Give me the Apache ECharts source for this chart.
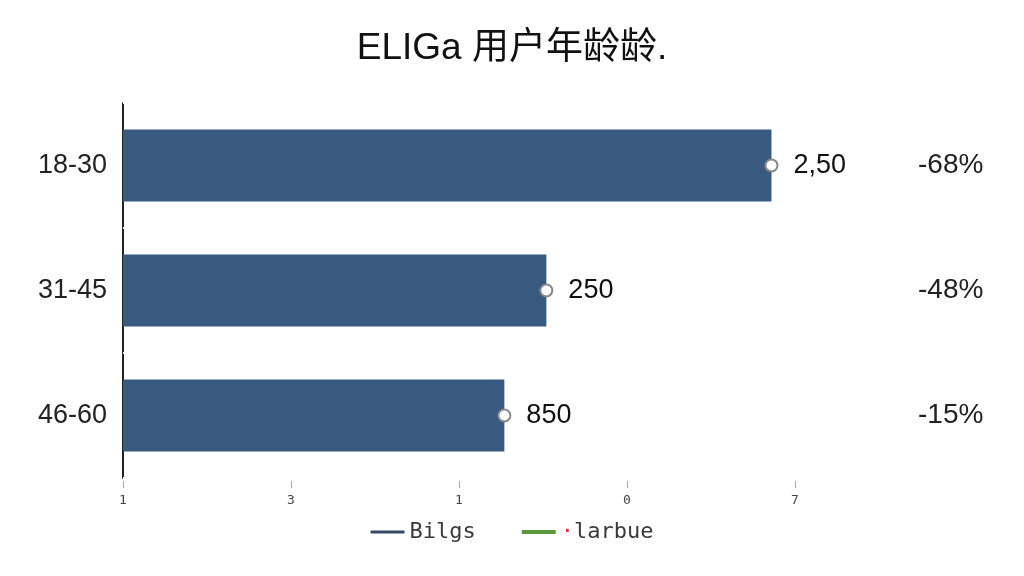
<!DOCTYPE html>
<html>
<head>
<meta charset="utf-8">
<script src="https://cdn.jsdelivr.net/npm/echarts@6/dist/echarts.min.js"></script>
<style>
  html, body { margin: 0; padding: 0; background: #fff; }
  #chart { width: 1024px; height: 576px; }
</style>
</head>
<body>
<div id="chart"></div>
<script>
// values
const categories = ['18-30', '31-45', '46-60']
const barValues = [3.86, 2.52, 2.27]
const valueLabels = ['2,50', '250', '850']
const pctLabels = ['-68%', '-48%', '-15%']
const xTickLabels = ['1', '3', '1', '0', '7']

const chart = echarts.init(document.getElementById('chart'))

const option = {
  backgroundColor: '#fff',
  animation: false,
  title: {
    text: 'ELIGa 用户年龄龄.',
    left: 'center',
    top: 25,
    textStyle: {
      fontFamily: 'Liberation Sans, Noto Sans CJK SC',
      fontSize: 37,
      fontWeight: 'normal',
      color: '#111'
    }
  },
  legend: {
    bottom: 28,
    left: 'center',
    itemWidth: 34,
    itemHeight: 14,
    itemGap: 46,
    textStyle: {
      fontFamily: 'DejaVu Sans Mono',
      fontSize: 22,
      color: '#3a3a3a',
      rich: { r: { color: '#e0304a', fontSize: 22, fontFamily: 'DejaVu Sans Mono' } }
    },
    formatter: name => name === 'larbue' ? '{r|·}' + name : name,
    data: [
      { name: 'Bilgs', icon: 'path://M0,0 L34,0 L34,3 L0,3 Z', itemStyle: { color: '#3a4a66' } },
      {
        name: 'larbue',
        icon: 'path://M0,0 L26,0 L26,3 L0,3 Z',
        itemStyle: { color: '#5b9a3c', borderWidth: 0 }
      }
    ]
  },
  grid: { left: 123, right: 229, top: 103, bottom: 98 },
  xAxis: {
    type: 'value',
    min: 0,
    max: 4,
    interval: 1,
    offset: 3,
    axisLine: { show: false },
    axisTick: { show: true, length: 7, lineStyle: { color: '#aaa' } },
    splitLine: { show: false },
    axisLabel: {
      margin: 13,
      fontFamily: 'DejaVu Sans Mono',
      fontSize: 13,
      color: '#444',
      formatter: v => xTickLabels[Math.round(v)]
    }
  },
  yAxis: [
    {
      type: 'category',
      data: categories,
      inverse: true,
      axisLine: { show: true, lineStyle: { color: '#222', width: 2 } },
      axisTick: { show: true, inside: true, length: 3, lineStyle: { color: '#fff', width: 2 } },
      axisLabel: { margin: 16, fontFamily: 'Liberation Sans', fontSize: 27, color: '#222' }
    },
    {
      type: 'category',
      data: categories,
      inverse: true,
      position: 'right',
      axisLine: { show: false },
      axisTick: { show: false },
      axisLabel: {
        margin: 123,
        align: 'left',
        fontFamily: 'Liberation Sans',
        fontSize: 28,
        color: '#222',
        formatter: (v, i) => pctLabels[i]
      }
    }
  ],
  series: [
    {
      name: 'Bilgs',
      type: 'bar',
      data: barValues,
      barWidth: 72,
      itemStyle: { color: '#375a7e' },
      label: {
        show: true,
        position: 'right',
        distance: 22,
        fontFamily: 'Liberation Sans',
        fontSize: 27,
        color: '#111',
        formatter: p => valueLabels[p.dataIndex]
      }
    },
    {
      name: 'larbue',
      type: 'line',
      data: barValues,
      symbol: 'circle',
      symbolSize: 12,
      lineStyle: { width: 0, opacity: 0 },
      itemStyle: { color: '#fff', borderColor: '#888', borderWidth: 2 },
      z: 5
    }
  ]
}

chart.setOption(option)
</script>
</body>
</html>
